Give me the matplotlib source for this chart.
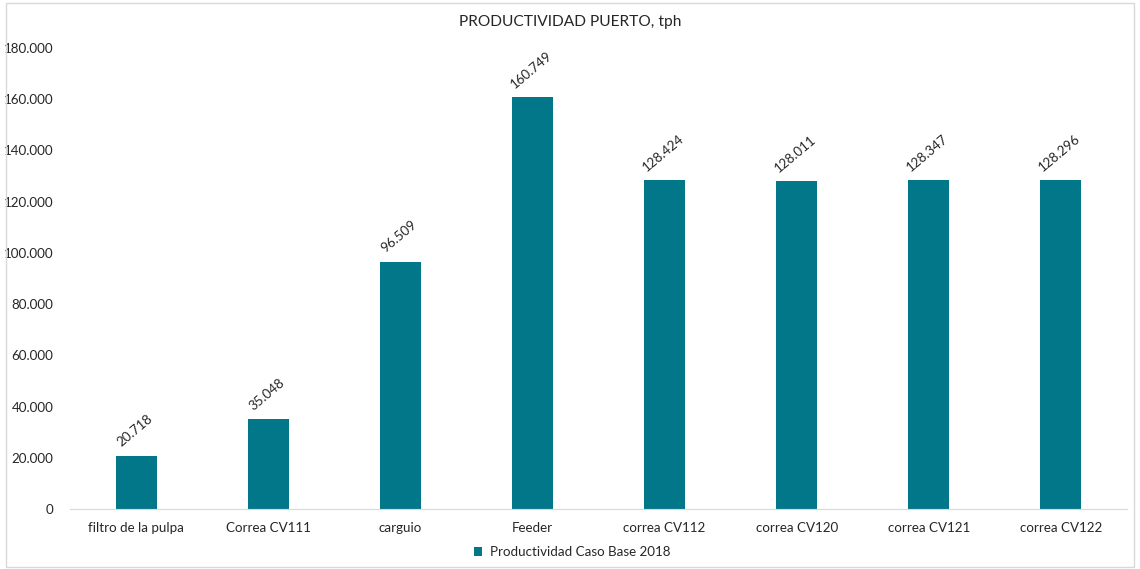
import matplotlib
matplotlib.use("Agg")
import matplotlib.pyplot as plt
from matplotlib.patches import Rectangle
from matplotlib.ticker import FuncFormatter

categories = ["filtro de la pulpa", "Correa CV111", "carguio", "Feeder",
              "correa CV112", "correa CV120", "correa CV121", "correa CV122"]
values = [20718, 35048, 96509, 160749, 128424, 128011, 128347, 128296]
series_name = "Productividad Caso Base 2018"
yticks = [0, 20000, 40000, 60000, 80000, 100000, 120000, 140000, 160000, 180000]

plt.rcParams["font.family"] = ["Lato", "DejaVu Sans"]
bar_color = "#03778A"
text_color = "#262626"


def thousands(v, _pos=None):
    return f"{int(round(v)):,}".replace(",", ".")


fig = plt.figure(figsize=(11.4, 5.69), dpi=100)
fig.patches.append(Rectangle((0.005, 0.004), 0.99, 0.99, transform=fig.transFigure,
                             fill=False, edgecolor="#D9D9D9", linewidth=1.0))

ax = fig.add_axes([70 / 1140, 1 - 509 / 569, (1127 - 70) / 1140, (509 - 48) / 569])
x = range(len(categories))
bars = ax.bar(x, values, width=0.31, color=bar_color, label=series_name, zorder=2)

for xi, v in zip(x, values):
    ax.annotate(thousands(v), (xi, v), xytext=(-1, 5), textcoords="offset points",
                rotation=40, ha="center", va="bottom", fontsize=9.6, color=text_color)

ax.set_xlim(-0.5, len(categories) - 0.5)
ax.set_ylim(0, 180000)
ax.set_yticks(yticks)
ax.yaxis.set_major_formatter(FuncFormatter(thousands))
ax.set_xticks(list(x))
ax.set_xticklabels(categories)
ax.tick_params(axis="both", length=0, labelsize=9.6, colors=text_color)
ax.tick_params(axis="x", pad=9)
ax.tick_params(axis="y", pad=12)
for side in ("top", "right", "left"):
    ax.spines[side].set_visible(False)
ax.spines["bottom"].set_color("#D9D9D9")

fig.text(0.5, 1 - 22 / 569, "PRODUCTIVIDAD PUERTO, tph", ha="center", va="center",
         fontsize=11.2, color=text_color)

fig.legend(handles=[bars], labels=[series_name], loc="center",
           bbox_to_anchor=(572 / 1140, 1 - 552 / 569), frameon=False, fontsize=9.6,
           handlelength=0.6, handleheight=0.6, handletextpad=0.6,
           labelcolor=text_color)

fig.savefig("out.png", dpi=100, facecolor="white")
